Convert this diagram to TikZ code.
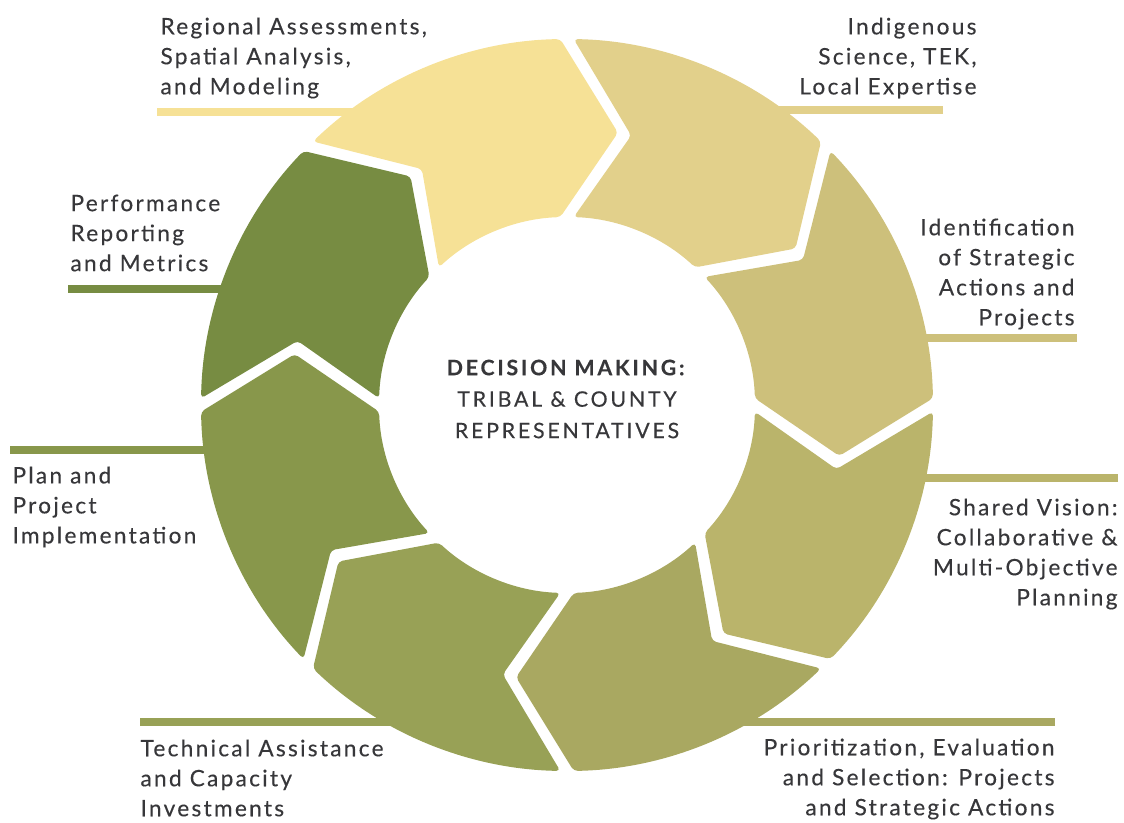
\documentclass[tikz,border=0pt]{standalone}
\usepackage{fontspec}
\setmainfont[LetterSpace=10,FakeBold=0.3]{Lato}
\newfontfamily\hubfont[LetterSpace=13,FakeBold=0.3]{Lato}
\definecolor{cRegional}{RGB}{246,225,150}
\definecolor{cIndigenous}{RGB}{226,208,139}
\definecolor{cIdent}{RGB}{205,192,123}
\definecolor{cShared}{RGB}{186,180,107}
\definecolor{cPrio}{RGB}{169,168,97}
\definecolor{cTech}{RGB}{152,161,86}
\definecolor{cPlan}{RGB}{136,151,75}
\definecolor{cPerf}{RGB}{119,140,66}
\definecolor{cText}{RGB}{55,55,58}
\tikzset{every picture/.style={line width=0.75pt}}
\tikzset{
  lead/.style={line width=6pt},
  lab/.style={inner sep=0pt, text=cText, font=\fontsize{17}{22.5}\selectfont},
  hub/.style={inner sep=0pt, text=cText, align=center, font=\hubfont\fontsize{16}{23.6}\selectfont}
}

\begin{document}
\begin{tikzpicture}[x=0.75pt,y=0.75pt,yscale=-1,xscale=1]
    \useasboundingbox (0,0) rectangle (1124,823);
    % Labels
    \node[lab, anchor=west, align=left] (regLab) at (160,58) {Regional Assessments,\\Spatial Analysis,\\and Modeling};
    \node[lab, anchor=east, align=right] (indLab) at (977,58) {Indigenous\\Science, TEK,\\Local Expertise};
    \node[lab, anchor=east, align=right] (idLab) at (1075,274) {Identification\\of Strategic\\Actions and\\Projects};
    \node[lab, anchor=east, align=right] (sharedLab) at (1118,554) {Shared Vision:\\Collaborative \&\\Multi-Objective\\Planning};
    \node[lab, anchor=east, align=right] (prioLab) at (1055,779) {Prioritization, Evaluation\\and Selection: Projects\\and Strategic Actions};
    \node[lab, anchor=west, align=left] (techLab) at (140,778) {Technical Assistance\\and Capacity\\Investments};
    \node[lab, anchor=west, align=left] (planLab) at (12,507) {Plan and\\Project\\Implementation};
    \node[lab, anchor=west, align=left] (perfLab) at (70,233) {Performance\\Reporting\\and Metrics};
    % Leader lines (run in under the ring)
    \coordinate (regA) at (157,112);   \coordinate (regB) at (420,112);
    \coordinate (indA) at (943,110);   \coordinate (indB) at (730,110);
    \coordinate (idA) at (1077,338);   \coordinate (idB) at (890,338);
    \coordinate (sharedA) at (1118,478); \coordinate (sharedB) at (890,478);
    \coordinate (prioA) at (1055,722); \coordinate (prioB) at (700,722);
    \coordinate (techA) at (140,722);  \coordinate (techB) at (430,722);
    \coordinate (planA) at (10,450);   \coordinate (planB) at (240,450);
    \coordinate (perfA) at (68,289);   \coordinate (perfB) at (250,289);
    \draw[lead, cRegional] (regA) -- (regB);
    \draw[lead, cIndigenous] (indA) -- (indB);
    \draw[lead, cIdent] (idA) -- (idB);
    \draw[lead, cShared] (sharedA) -- (sharedB);
    \draw[lead, cPrio] (prioA) -- (prioB);
    \draw[lead, cTech] (techA) -- (techB);
    \draw[lead, cPlan] (planA) -- (planB);
    \draw[lead, cPerf] (perfA) -- (perfB);
    % Ring of chevrons, clockwise
    \begin{scope}[shift={(567,405)},yscale=-1]
    \foreach \a/\col in {135/cRegional,90/cIndigenous,45/cIdent,0/cShared,-45/cPrio,-90/cTech,-135/cPlan,180/cPerf}{
        \pgfmathsetmacro\b{\a-45}
        \fill[\col, rounded corners=3pt] ({\a-1.05}:366) arc[start angle={\a-1.05}, end angle={\b+1.05}, radius=366]
            -- ({\b-12+1.4}:277) -- ({\b+2.05}:188)
            arc[start angle={\b+2.05}, end angle={\a-2.05}, radius=188]
            -- ({\a-12-1.4}:277) -- cycle;
    }
    \end{scope}
    % Centre text
    \node[hub] (hubLab) at (567,399) {\textbf{DECISION MAKING:}\\TRIBAL \& COUNTY\\REPRESENTATIVES};
\end{tikzpicture}
\end{document}
